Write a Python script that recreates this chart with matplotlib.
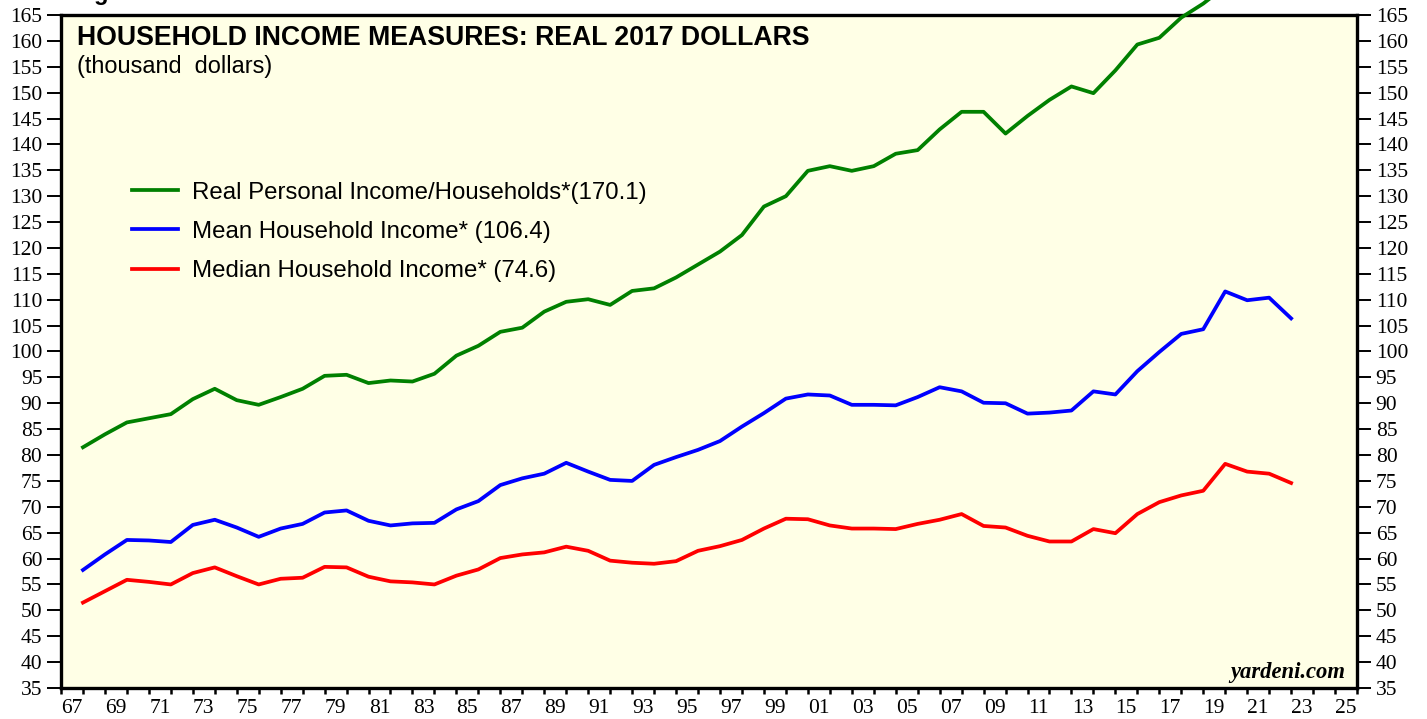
import numpy as np
import matplotlib
matplotlib.use("Agg")
import matplotlib.pyplot as plt
from matplotlib.ticker import FixedLocator, NullFormatter, FixedFormatter

years = list(range(1967, 2023))

# real personal income / households, thousand 2017 $
personal = [81.5, 84.0, 86.3, 87.1, 87.9, 90.8, 92.8, 90.6, 89.7, 91.2,
            92.8, 95.3, 95.5, 93.9, 94.4, 94.2, 95.7, 99.2, 101.1, 103.8,
            104.6, 107.7, 109.6, 110.1, 109.0, 111.7, 112.2, 114.3, 116.8, 119.3,
            122.5, 128.0, 130.0, 134.9, 135.8, 134.9, 135.8, 138.2, 138.9, 142.9,
            146.3, 146.3, 142.1, 145.5, 148.6, 151.2, 149.9, 154.3, 159.3, 160.6,
            164.5, 167.2, 170.5, 177.0, 176.5, 170.1]

mean_hh = [57.8, 60.8, 63.6, 63.5, 63.2, 66.5, 67.5, 66.0, 64.2, 65.8,
           66.7, 68.9, 69.3, 67.3, 66.4, 66.8, 66.9, 69.5, 71.1, 74.2,
           75.5, 76.4, 78.5, 76.8, 75.2, 75.0, 78.1, 79.6, 81.0, 82.7,
           85.5, 88.1, 90.9, 91.7, 91.5, 89.7, 89.7, 89.6, 91.2, 93.1,
           92.3, 90.1, 90.0, 88.0, 88.2, 88.6, 92.3, 91.7, 96.2, 99.9,
           103.4, 104.3, 111.6, 109.9, 110.4, 106.4]

median_hh = [51.5, 53.7, 55.9, 55.5, 55.0, 57.2, 58.3, 56.6, 55.0, 56.1,
             56.3, 58.4, 58.3, 56.5, 55.6, 55.4, 55.0, 56.7, 57.9, 60.1,
             60.8, 61.2, 62.3, 61.5, 59.6, 59.2, 59.0, 59.5, 61.5, 62.4,
             63.6, 65.8, 67.7, 67.6, 66.4, 65.8, 65.8, 65.7, 66.7, 67.5,
             68.6, 66.3, 66.0, 64.4, 63.3, 63.3, 65.7, 64.9, 68.6, 70.9,
             72.2, 73.1, 78.3, 76.8, 76.4, 74.6]

labels = ["Real Personal Income/Households*(170.1)",
          "Mean Household Income* (106.4)",
          "Median Household Income* (74.6)"]

serif = ["Liberation Serif", "DejaVu Serif"]
sans = ["Liberation Sans", "DejaVu Sans"]
plt.rcParams["font.family"] = serif

fig = plt.figure(figsize=(14.27, 7.19), dpi=100)
ax = fig.add_axes([61 / 1427, 1 - 688 / 719, 1296 / 1427, 673 / 719])
ax.set_facecolor("#ffffe6")

# annual values are plotted at the end of each year
x = np.array(years) + 1.0
ax.plot(x, personal, color="#008000", lw=2.7, label=labels[0], clip_on=False, zorder=5)
ax.plot(x, mean_hh, color="#0000ff", lw=2.7, label=labels[1], zorder=5)
ax.plot(x, median_hh, color="#ff0000", lw=2.7, label=labels[2], zorder=5)

ax.set_xlim(1967, 2026)
ax.set_ylim(35, 165)

ax.set_yticks(np.arange(35, 166, 5))
ax.tick_params(axis="y", which="major", direction="out", length=10, width=1.4,
               left=True, right=True, labelleft=True, labelright=True,
               labelsize=15.5, pad=3.5)

ax.xaxis.set_major_locator(FixedLocator(np.arange(1967, 2027)))
ax.xaxis.set_major_formatter(NullFormatter())
odd = np.arange(1967, 2026, 2)
ax.xaxis.set_minor_locator(FixedLocator(odd + 0.5))
ax.xaxis.set_minor_formatter(FixedFormatter(["%02d" % (y % 100) for y in odd]))
ax.tick_params(axis="x", which="major", direction="out", length=4, width=1.8)
ax.tick_params(axis="x", which="minor", length=0, labelsize=15.5, pad=8)

for s in ax.spines.values():
    s.set_linewidth(2.4)
    s.set_color("black")

ax.text(0.012, 0.9554, "HOUSEHOLD INCOME MEASURES: REAL 2017 DOLLARS",
        transform=ax.transAxes, fontsize=19.2, fontweight="bold",
        family=sans, va="baseline", ha="left")
ax.text(0.012, 0.9138, "(thousand  dollars)", transform=ax.transAxes,
        fontsize=16.9, family=sans, va="baseline", ha="left")

leg = ax.legend(loc="upper left", bbox_to_anchor=(0.0548, 0.7526), frameon=False,
                prop={"family": sans, "size": 17.3}, handlelength=1.9,
                handletextpad=0.6, labelspacing=0.72, borderpad=0, borderaxespad=0)
for h in leg.get_lines():
    h.set_linewidth(2.7)

ax.text(0.9907, 0.0149, "yardeni.com", transform=ax.transAxes, fontsize=16.3,
        family=serif, fontweight="bold", style="italic", ha="right", va="baseline")

fig.text(73 / 1427, 1.0, "Figure 1.", fontsize=17, fontweight="bold",
         family=sans, ha="left", va="baseline")

fig.savefig("out.png", dpi=100, facecolor="white")
